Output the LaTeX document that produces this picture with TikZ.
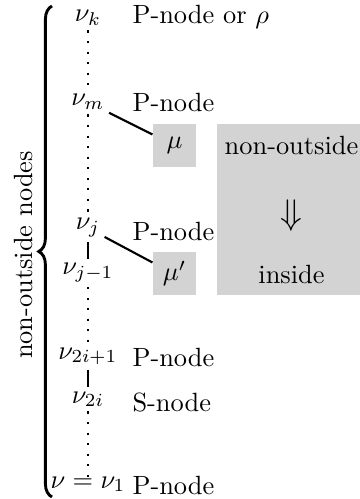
\documentclass[tikz,border=0pt]{standalone}
\usetikzlibrary{decorations.pathreplacing,calc}
\definecolor{boxgray}{RGB}{211,211,211}
\begin{document}
\begin{tikzpicture}[x=0.379pt,y=-0.379pt,
  mathlbl/.style={anchor=base,inner sep=1.5pt},
  kindlbl/.style={anchor=base west,inner sep=0pt},
  graybox/.style={fill=boxgray,inner sep=0pt,minimum width=16.3pt,minimum height=16.3pt},
  dotline/.style={line width=0.8pt,dash pattern=on 0.8pt off 3.2pt},
  solidline/.style={line width=0.8pt},
  bracestyle/.style={line width=1.1pt,decorate,decoration={brace,amplitude=5pt}}]
\useasboundingbox (0,0) rectangle (359,499);
% big box
\node[fill=boxgray,inner sep=0pt,minimum width=56.5pt,minimum height=64.8pt] (bigbox) at (291.5,209.5) {};
\node[anchor=base,inner sep=0pt] (nonout) at (291.5,155) {non-outside};
\node[inner sep=0pt] (darrow) at (291.5,216) {\scalebox{1.35}{$\Downarrow$}};
\node[anchor=base,inner sep=0pt] (inside) at (291.5,283) {inside};
% small boxes
\node[graybox] (mu) at (174.5,145.5) {$\mu$};
\node[graybox] (mup) at (174.5,273.5) {$\mu'$};
% math labels
\node[mathlbl] (nuk) at (88,22) {$\nu_k$};
\node[mathlbl] (num) at (88,106) {$\nu_m$};
\node[mathlbl] (nuj) at (88,230) {$\nu_j$};
\node[mathlbl] (nujm) at (88,275) {$\nu_{j-1}$};
\node[mathlbl] (nuii) at (88,359) {$\nu_{2i+1}$};
\node[mathlbl] (nuti) at (88,403) {$\nu_{2i}$};
\node[mathlbl] (nuone) at (88,488) {$\nu=\nu_1$};
% kind labels
\node[kindlbl] (kk) at (132,24) {P-node or $\rho$};
\node[kindlbl] (km) at (132,112) {P-node};
\node[kindlbl] (kj) at (132,241) {P-node};
\node[kindlbl] (kii) at (132,366) {P-node};
\node[kindlbl] (kti) at (132,411) {S-node};
\node[kindlbl] (kone) at (132,494) {P-node};
% connectors
\draw[dotline] (nuk.south) -- (num.north);
\draw[dotline] (num.south) -- (nuj.north);
\draw[solidline] (nuj.south) -- (nujm.north);
\draw[dotline] (nujm.south) -- (nuii.north);
\draw[solidline] (nuii.south) -- (nuti.north);
\draw[dotline,shorten >=-4pt] (nuti.south) -- (nuone.north);
\draw[solidline] (num) -- ($(mu.north west)!0.25!(mu.south west)$);
\draw[solidline] (nuj) -- ($(mup.north west)!0.25!(mup.south west)$);
% brace
\coordinate (bbot) at (52,497);
\coordinate (btop) at (52,6);
\draw[bracestyle] (bbot) -- (btop);
\node[rotate=90,inner sep=0pt] (bracelbl) at (23,255) {non-outside nodes};
\end{tikzpicture}
\end{document}
